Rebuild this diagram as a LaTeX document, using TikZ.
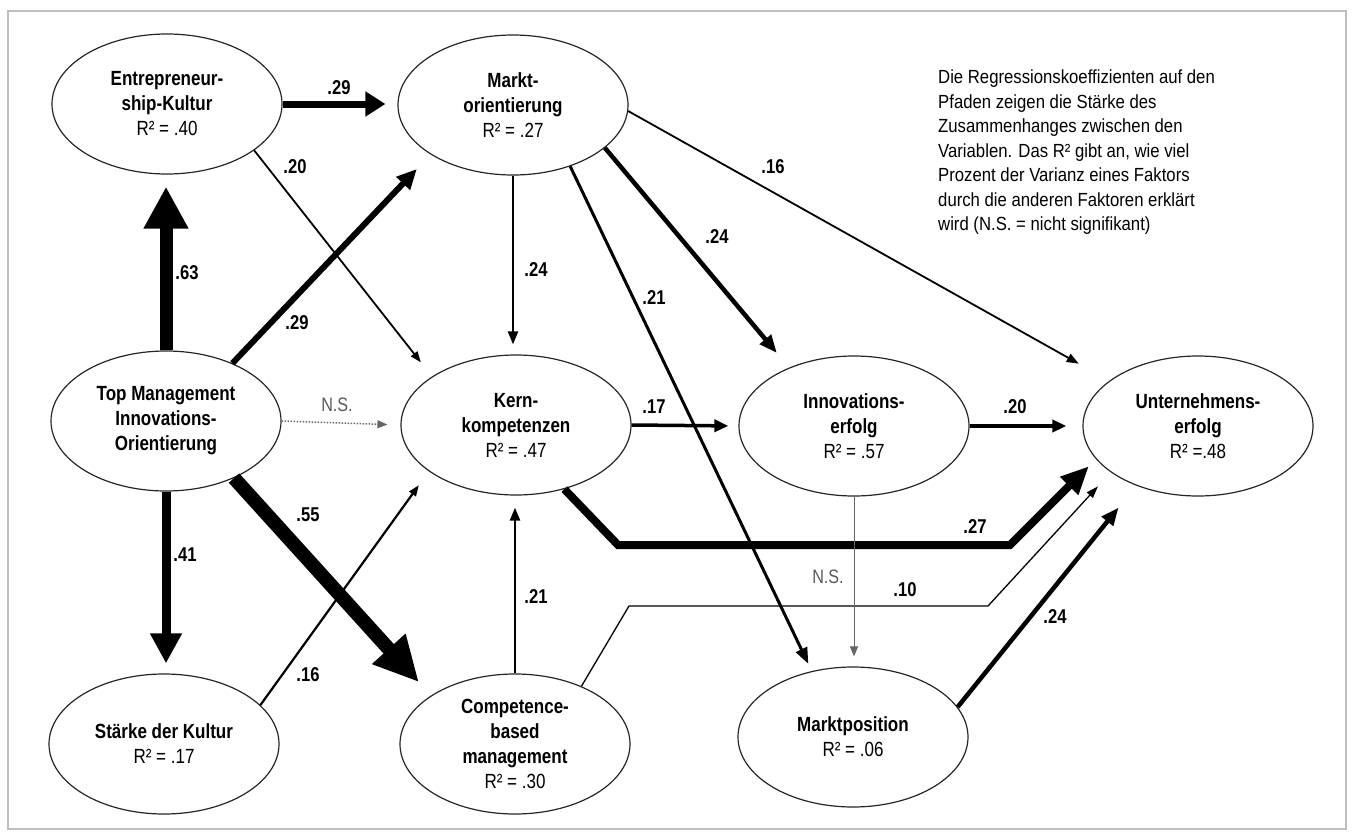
\documentclass[tikz,border=0pt]{standalone}
\usepackage{fontspec}
\setmainfont[FakeStretch=0.83]{Liberation Sans}
\newfontfamily\notefont[FakeStretch=0.88]{Liberation Sans}
\usetikzlibrary{shapes.geometric,arrows.meta}
\begin{document}
\begin{tikzpicture}[x=1pt,y=-1pt,
  var/.style={ellipse, draw=black!85, line width=1.2pt, minimum width=230pt,
    minimum height=140pt, inner sep=0pt, align=center,
    font=\fontsize{20.5}{25}\selectfont},
  coef/.style={font=\bfseries\fontsize{20}{22}\selectfont, inner sep=0pt},
  nslab/.style={font=\fontsize{19.5}{22}\selectfont, text=black!65, inner sep=0pt},
  tip/.style 2 args={-{Triangle[length=#1,width=#2]}}
]
\useasboundingbox (0,0) rectangle (1358,835);
% outer frame
\draw[black!25, line width=2pt] (8,11) rectangle (1346,829);

% latent variables
\node[var] (E) at (167,104) {\textbf{Entrepreneur-}\\\textbf{ship-Kultur}\\R² = .40};
\node[var] (M) at (513,105) {\textbf{Markt-}\\\textbf{orientierung}\\R² = .27};
\node[var] (T) at (166,421) {\textbf{Top Management}\\\textbf{Innovations-}\\\textbf{Orientierung}};
\node[var] (K) at (516,425) {\textbf{Kern-}\\\textbf{kompetenzen}\\R² = .47};
\node[var] (I) at (854,426) {\textbf{Innovations-}\\\textbf{erfolg}\\R² = .57};
\node[var] (U) at (1198,426) {\textbf{Unternehmens-}\\\textbf{erfolg}\\R² =.48};
\node[var] (S) at (164,744) {\textbf{Stärke der Kultur}\\R² = .17};
\node[var] (C) at (515,744) {\textbf{Competence-}\\\textbf{based}\\\textbf{management}\\R² = .30};
\node[var] (P) at (853,737) {\textbf{Marktposition}\\R² = .06};

% explanatory note
\node[anchor=north west, align=left, inner sep=0pt,
  font=\notefont\fontsize{19}{24.5}\selectfont] (note) at (938,70)
  {Die Regressionskoeffizienten auf den\\
   Pfaden zeigen die Stärke des\\
   Zusammenhanges zwischen den\\
   Variablen. Das R² gibt an, wie viel\\
   Prozent der Varianz eines Faktors\\
   durch die anderen Faktoren erklärt\\
   wird (N.S. = nicht signifikant)};

% bend points of the routed paths
\coordinate (b1) at (618,545);
\coordinate (b2) at (1010,545);
\coordinate (b3) at (629,606);
\coordinate (b4) at (988,606);

% paths
\draw[line width=7pt, tip={20pt}{24pt}, shorten >=12pt] (E.east) -- (E.east -| M.west);
\draw[line width=1.8pt, tip={11pt}{8pt}, shorten >=18pt] (E.-28) -- (K.150);
\draw[line width=13pt, tip={42pt}{42pt}, shorten >=12pt] (T.north) -- (T.north |- E.south);
\draw[line width=6pt, tip={20pt}{18pt}, shorten >=20pt] (T.41) -- (M.211.6);
\draw[black!60, line width=1.5pt, dash pattern=on 1.5pt off 1.5pt, tip={10pt}{8pt}, shorten >=13pt] (T.east) -- (K.west);
\draw[line width=2.2pt, tip={13pt}{10pt}, shorten >=10pt] (M.south) -- (M.south |- K.north);
\draw[line width=3pt, tip={16pt}{12pt}, shorten >=8pt] (M.-47.3) -- (P.122.6);
\draw[line width=4.5pt, tip={18pt}{14pt}, shorten >=19pt] (M.-25.5) -- (I.138.4);
\draw[line width=1.8pt, tip={12pt}{9pt}, shorten >=35pt] (M.-3) -- (U.153.4);
\draw[line width=3.5pt, tip={14pt}{12pt}, shorten >=10pt] (K.east) -- (I.west);
\draw[line width=3.5pt, tip={14pt}{12pt}, shorten >=16pt] (I.east) -- (U.west);
\draw[line width=8pt, line join=miter, tip={28pt}{24pt}, shorten >=10pt] (K.-53) -- (b1) -- (b2) -- (U.198);
\draw[line width=1.3pt, tip={12pt}{8pt}, shorten >=19pt] (C.41) -- (b3) -- (b4) -- (U.208.7);
\draw[line width=4.5pt, tip={18pt}{14pt}, shorten >=28pt] (P.16.5) -- (U.224);
\draw[line width=9pt, tip={30pt}{30pt}, shorten >=10pt] (T.south) -- (T.south |- S.north);
\draw[line width=14pt, tip={45pt}{42pt}, shorten >=18pt] (T.-40) -- (C.150);
\draw[line width=2.2pt, tip={11pt}{8pt}, shorten >=17pt] (S.22.6) -- (K.208.4);
\draw[line width=2.5pt, tip={13pt}{10pt}, shorten >=12pt] (C.north) -- (C.north |- K.south);
\draw[black!60, line width=1pt, tip={10pt}{8pt}, shorten >=10pt] (I.south) -- (I.south |- P.north);

% path coefficients
\node[coef] (c1) at (339,88) {.29};
\node[coef] (c2) at (295,167) {.20};
\node[coef] (c3) at (187,273) {.63};
\node[coef] (c4) at (297,323) {.29};
\node[nslab] (c5) at (337,405) {N.S.};
\node[coef] (c6) at (536,270) {.24};
\node[coef] (c7) at (654,298) {.21};
\node[coef] (c8) at (717,237) {.24};
\node[coef] (c9) at (773,167) {.16};
\node[coef] (c10) at (654,407) {.17};
\node[coef] (c11) at (1015,407) {.20};
\node[coef] (c12) at (975,527) {.27};
\node[coef] (c13) at (905,590) {.10};
\node[nslab] (c14) at (828,577) {N.S.};
\node[coef] (c15) at (1055,617) {.24};
\node[coef] (c16) at (185,555) {.41};
\node[coef] (c17) at (308,515) {.55};
\node[coef] (c18) at (308,675) {.16};
\node[coef] (c19) at (536,597) {.21};
\end{tikzpicture}
\end{document}
